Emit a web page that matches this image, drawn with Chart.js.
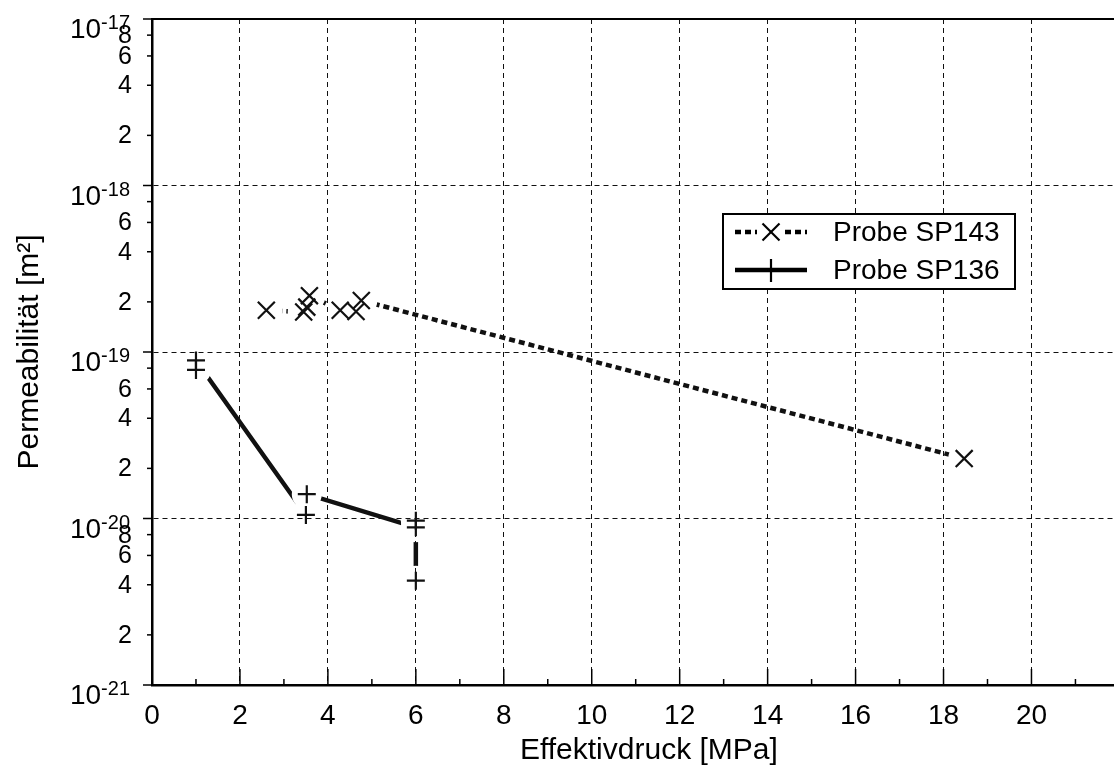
<!DOCTYPE html>
<html lang="de">
<head>
<meta charset="utf-8">
<title>Permeabilität über Effektivdruck</title>
<script src="https://cdn.jsdelivr.net/npm/chart.js@4.4.1/dist/chart.umd.min.js"></script>
<style>
  html, body { margin: 0; padding: 0; background: #fff; overflow: hidden; }
  canvas { display: block; }
</style>
</head>
<body>
<canvas id="permChart" width="1160" height="776"></canvas>
<script>
// Effektivdruck [MPa] and Permeabilität [m²], in measuring order
const sp143Druck = [2.6, 3.45, 3.52, 3.58, 4.28, 4.64, 4.76, 18.47];
const sp143Perm = [1.78e-19, 1.74e-19, 1.86e-19, 2.18e-19, 1.78e-19, 1.75e-19, 2.04e-19, 2.29e-20];
const sp136Druck = [1.0, 1.0, 3.5, 3.52, 6.0, 6.0, 6.0];
const sp136Perm = [7.8e-20, 8.9e-20, 1.05e-20, 1.4e-20, 8.85e-21, 9.7e-21, 4.23e-21];

const xTicks = [0, 2, 4, 6, 8, 10, 12, 14, 16, 18, 20];
const xMinorTicks = [1, 3, 5, 7, 9, 11, 13, 15, 17, 19, 21];
const yDecades = [1e-21, 1e-20, 1e-19, 1e-18, 1e-17];
const yMinorSteps = [2, 4, 6, 8];
const yMinorLabels = [8e-18, 6e-18, 4e-18, 2e-18, 6e-19, 4e-19, 2e-19, 6e-20, 4e-20, 2e-20, 8e-21, 6e-21, 4e-21, 2e-21];

const FONT = '"Liberation Sans", Arial, sans-serif';
Chart.defaults.font.family = FONT;
Chart.defaults.color = '#000';

const toPoints = (xs, ys) => xs.map((x, i) => ({ x: x, y: ys[i] }));
const sp143Points = toPoints(sp143Druck, sp143Perm);
const sp136Points = toPoints(sp136Druck, sp136Perm);

// lines stop short of every marker, as in the old plotter output
const markerGaps = {
    id: 'markerGaps',
    beforeDatasetDraw(chart, args) {
        const ds = chart.data.datasets[args.index];
        if (!ds.gapRadius) return;
        const ctx = chart.ctx;
        const xs = chart.scales.x, ys = chart.scales.y;
        ctx.save();
        ds.data.forEach(p => {
            const px = xs.getPixelForValue(p.x);
            const py = ys.getPixelForValue(p.y);
            ctx.beginPath();
            ctx.rect(0, 0, chart.width, chart.height);
            ctx.moveTo(px + ds.gapRadius, py);
            ctx.arc(px, py, ds.gapRadius, 0, Math.PI * 2);
            ctx.clip('evenodd');
        });
    },
    afterDatasetDraw(chart, args) {
        if (chart.data.datasets[args.index].gapRadius) chart.ctx.restore();
    }
};

function strokeLine(ctx, x1, y1, x2, y2) {
    ctx.beginPath();
    ctx.moveTo(x1, y1);
    ctx.lineTo(x2, y2);
    ctx.stroke();
}

// frame, tick marks, 10^n labels and the boxed legend
const axisDecor = {
    id: 'axisDecor',
    afterDraw(chart) {
        const { ctx, chartArea: a } = chart;
        const x = chart.scales.x, y = chart.scales.y;
        ctx.save();
        ctx.strokeStyle = '#000';
        ctx.fillStyle = '#000';

        ctx.lineWidth = 2;
        strokeLine(ctx, a.left, a.top, a.right, a.top);

        ctx.lineWidth = 1.5;
        xTicks.forEach(v => {
            const px = x.getPixelForValue(v);
            strokeLine(ctx, px, a.bottom, px, a.bottom - 16);
        });
        xMinorTicks.forEach(v => {
            const px = x.getPixelForValue(v);
            strokeLine(ctx, px, a.bottom, px, a.bottom - 6);
        });
        yDecades.forEach(v => {
            const py = y.getPixelForValue(v);
            strokeLine(ctx, a.left - 9, py, a.left, py);
        });
        yDecades.slice(0, -1).forEach(d => {
            yMinorSteps.forEach(m => {
                const py = y.getPixelForValue(d * m);
                strokeLine(ctx, a.left - 5, py, a.left, py);
            });
        });

        ctx.textAlign = 'right';
        ctx.textBaseline = 'alphabetic';
        yDecades.forEach(v => {
            const py = y.getPixelForValue(v);
            const exp = String(Math.round(Math.log10(v)));
            ctx.font = '20px ' + FONT;
            const we = ctx.measureText(exp).width;
            ctx.fillText(exp, 130, py + 10);
            ctx.font = '28px ' + FONT;
            ctx.fillText('10', 130 - we, py + 19);
        });
        ctx.font = '25px ' + FONT;
        ctx.textBaseline = 'middle';
        yMinorLabels.forEach(v => {
            const py = y.getPixelForValue(v);
            const digit = Math.round(v / Math.pow(10, Math.floor(Math.log10(v) + 1e-9)));
            ctx.fillText(String(digit), 132, py + 1);
        });

        // legend
        const lx = 723, ly = 214, lw = 292, lh = 75;
        ctx.fillStyle = '#fff';
        ctx.fillRect(lx, ly, lw, lh);
        ctx.lineWidth = 2;
        ctx.strokeRect(lx, ly, lw, lh);
        ctx.fillStyle = '#000';
        ctx.font = '28px ' + FONT;
        ctx.textAlign = 'left';
        ctx.textBaseline = 'middle';

        const row1 = ly + 18, row2 = ly + 56, mx = lx + 48;
        ctx.lineWidth = 4.5;
        ctx.setLineDash([6, 4]);
        strokeLine(ctx, lx + 12, row1, mx - 14, row1);
        strokeLine(ctx, mx + 14, row1, lx + 84, row1);
        ctx.setLineDash([]);
        ctx.lineWidth = 2.2;
        const d = 8.5;
        strokeLine(ctx, mx - d, row1 - d, mx + d, row1 + d);
        strokeLine(ctx, mx - d, row1 + d, mx + d, row1 - d);
        ctx.fillText(chart.data.datasets[0].label, lx + 110, row1 + 1);

        ctx.lineWidth = 4.5;
        strokeLine(ctx, lx + 12, row2, lx + 84, row2);
        ctx.lineWidth = 2.2;
        strokeLine(ctx, mx, row2 - 11, mx, row2 + 12);
        ctx.fillText(chart.data.datasets[2].label, lx + 110, row2 + 1);

        ctx.restore();
    }
};

const permCtx = document.getElementById('permChart').getContext('2d');
const permChart = new Chart(permCtx, {
    type: 'scatter',
    data: {
        datasets: [{
            label: 'Probe SP143',
            data: sp143Points,
            showLine: true,
            borderColor: '#111',
            borderWidth: 4.5,
            borderDash: [6, 4],
            borderCapStyle: 'butt',
            pointRadius: 0,
            gapRadius: 16
        }, {
            label: 'Probe SP143',
            data: sp143Points,
            showLine: false,
            pointStyle: 'crossRot',
            pointRadius: 12,
            pointHoverRadius: 12,
            pointBorderWidth: 2.2,
            pointBorderColor: '#111'
        }, {
            label: 'Probe SP136',
            data: sp136Points,
            showLine: true,
            borderColor: '#111',
            borderWidth: 4.5,
            pointRadius: 0,
            gapRadius: 15
        }, {
            label: 'Probe SP136',
            data: sp136Points,
            showLine: false,
            pointStyle: 'cross',
            pointRadius: 9,
            pointHoverRadius: 9,
            pointBorderWidth: 2.2,
            pointBorderColor: '#111'
        }]
    },
    options: {
        responsive: false,
        animation: false,
        events: [],
        layout: {
            padding: { top: 19, right: 4, bottom: 0, left: 0 }
        },
        plugins: {
            legend: { display: false },
            tooltip: { enabled: false }
        },
        scales: {
            x: {
                type: 'linear',
                min: 0,
                max: 22.6,
                afterBuildTicks: scale => {
                    scale.ticks = xTicks.map(v => ({ value: v }));
                },
                afterFit: scale => {
                    scale.height = 91;
                },
                grid: {
                    color: '#111',
                    lineWidth: 1,
                    drawTicks: false
                },
                border: {
                    color: '#000',
                    width: 2.5,
                    dash: [5, 4]
                },
                ticks: {
                    font: { size: 28 },
                    color: '#000',
                    padding: 14,
                    maxRotation: 0,
                    autoSkip: false
                },
                title: {
                    display: true,
                    text: 'Effektivdruck [MPa]',
                    font: { size: 30 },
                    color: '#000',
                    padding: { top: 0, bottom: 7 }
                }
            },
            y: {
                type: 'logarithmic',
                min: 1e-21,
                max: 1e-17,
                afterBuildTicks: scale => {
                    scale.ticks = yDecades.map(v => ({ value: v }));
                },
                afterFit: scale => {
                    scale.width = 152;
                },
                grid: {
                    color: '#111',
                    lineWidth: 1,
                    drawTicks: false
                },
                border: {
                    color: '#000',
                    width: 2.5,
                    dash: [5, 4]
                },
                ticks: {
                    display: false
                },
                title: {
                    display: true,
                    text: 'Permeabilität [m²]',
                    font: { size: 30 },
                    color: '#000',
                    padding: { top: 12, bottom: 0 }
                }
            }
        }
    },
    plugins: [markerGaps, axisDecor]
});
</script>
</body>
</html>
